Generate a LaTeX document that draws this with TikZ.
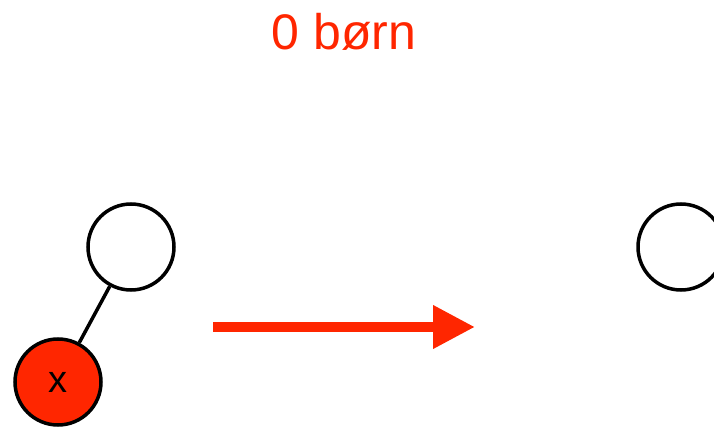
\documentclass[tikz,border=0pt]{standalone}
\usepackage{fontspec}
\setmainfont{Liberation Sans}
\usetikzlibrary{arrows.meta}
\definecolor{keyred}{RGB}{255,38,0}

\begin{document}
\begin{tikzpicture}[
    x=1pt, y=-1pt,
    treenode/.style={
        circle,
        draw=black,
        line width=3.5pt,
        fill=white,
        minimum size=86pt,
        inner sep=0pt,
        font=\fontsize{38}{44}\selectfont
    },
    marked/.style={
        treenode,
        fill=keyred
    },
    bigarrow/.style={
        draw=keyred,
        line width=10pt,
        -{Triangle[length=42pt,width=41pt]}
    }
]
\useasboundingbox (0,0) rectangle (714,427);

\node[text=keyred, font=\fontsize{50}{60}\selectfont] (title) at (344,32) {0 børn};

% Before: parent with the child x to be removed
\node[treenode] (parent) at (131,247) {};
\node[marked] (child) at (58,382) {x};
\draw[line width=3.5pt] (parent) -- (child);

\coordinate (arrowstart) at (213,327);
\coordinate (arrowend) at (475,327);
\draw[bigarrow] (arrowstart) -- (arrowend);

% After: the parent alone
\node[treenode] (result) at (681,247) {};
\end{tikzpicture}
\end{document}
